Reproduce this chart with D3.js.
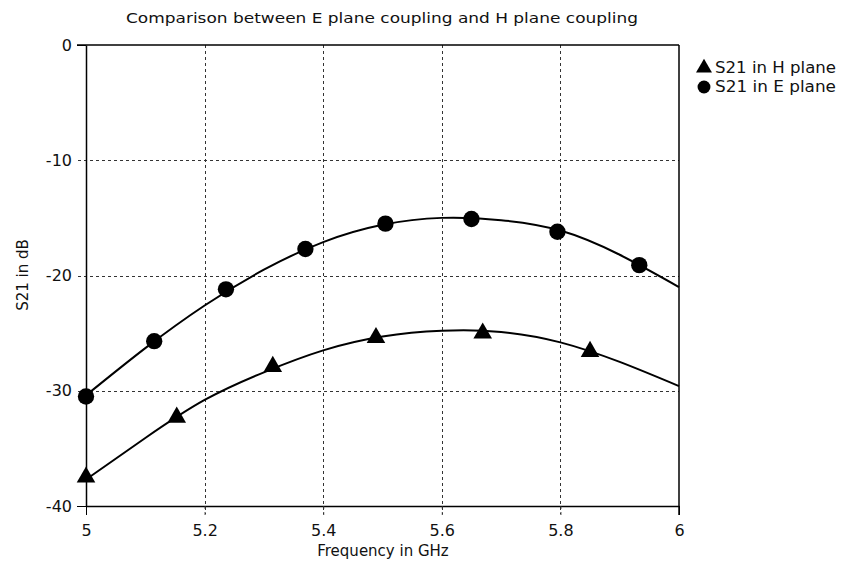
<!DOCTYPE html>
<html lang="en">
<head>
    <meta charset="UTF-8">
    <title>E plane vs H plane coupling</title>
    <script src="https://cdn.jsdelivr.net/npm/d3@7/dist/d3.min.js"></script>
    <style>
        body { margin: 0; background: #fff; }
        text { font-family: "DejaVu Sans", sans-serif; fill: #111; }
    </style>
</head>
<body>
    <script>
        // measured points
        const hFreq = [5.0, 5.153, 5.315, 5.489, 5.669, 5.85];
        const hS21 = [-37.5, -32.3, -27.9, -25.4, -25.0, -26.6];
        const eFreq = [5.0, 5.115, 5.236, 5.37, 5.505, 5.65, 5.795, 5.933];
        const eS21 = [-30.5, -25.7, -21.2, -17.7, -15.5, -15.1, -16.2, -19.1];
        // fitted curves
        const curveFreq = [5.0, 5.1, 5.2, 5.3, 5.4, 5.5, 5.6, 5.7, 5.8, 5.9, 6.0];
        const hCurve = [-37.7, -34.1, -30.8, -28.4, -26.5, -25.3, -24.8, -24.9, -25.8, -27.5, -29.6];
        const eCurve = [-30.4, -26.3, -22.6, -19.5, -17.1, -15.6, -15.0, -15.2, -16.1, -18.2, -21.0];
        const xTicks = [5, 5.2, 5.4, 5.6, 5.8, 6];
        const yTicks = [0, -10, -20, -30, -40];
        const legendLabels = ["S21 in H plane", "S21 in E plane"];

        const width = 843, height = 569;
        const mLeft = 86, mRight = 679, mTop = 45, mBottom = 506;

        const x = d3.scaleLinear().domain([5, 6]).range([mLeft, mRight]);
        const y = d3.scaleLinear().domain([-40, 0]).range([mBottom, mTop]);

        const svg = d3.select("body").append("svg").attr("width", width).attr("height", height);

        svg.append("text").attr("x", 382).attr("y", 23).attr("text-anchor", "middle")
            .style("font-size", "14px").attr("textLength", 512).attr("lengthAdjust", "spacingAndGlyphs")
            .text("Comparison between E plane coupling and H plane  coupling");

        // grid
        const grid = svg.append("g").attr("stroke", "#333").attr("stroke-width", 1).attr("stroke-dasharray", "3,3");
        grid.selectAll(".vg").data(xTicks.slice(1, -1)).enter().append("line")
            .attr("x1", d => Math.round(x(d)) + 0.5).attr("x2", d => Math.round(x(d)) + 0.5)
            .attr("y1", mTop).attr("y2", mBottom + 8);
        grid.selectAll(".hg").data(yTicks.slice(1, -1)).enter().append("line")
            .attr("y1", d => Math.round(y(d)) + 0.5).attr("y2", d => Math.round(y(d)) + 0.5)
            .attr("x1", mLeft - 8).attr("x2", mRight);

        // axes
        const fmt = d => String(d);
        const xAxis = svg.append("g").attr("transform", `translate(0,${mBottom})`)
            .call(d3.axisBottom(x).tickValues(xTicks).tickFormat(fmt).tickSize(9).tickSizeOuter(0));
        const yAxis = svg.append("g").attr("transform", `translate(${mLeft},0)`)
            .call(d3.axisLeft(y).tickValues(yTicks).tickFormat(fmt).tickSize(9).tickSizeOuter(0));
        [xAxis, yAxis].forEach(a => {
            a.select(".domain").attr("stroke", "#000").attr("stroke-width", 1.5);
            a.selectAll(".tick line").attr("stroke", "#000");
            a.selectAll(".tick text").style("font-size", "16px").style("font-family", "DejaVu Sans, sans-serif").attr("fill", "#111");
        });
        xAxis.selectAll(".tick text").attr("dy", "1.15em");
        xAxis.selectAll(".tick").filter(d => d > 5 && d < 6).select("line").attr("stroke-dasharray", "3,3").attr("stroke", "#333");
        yAxis.selectAll(".tick").filter(d => d < 0 && d > -40).select("line").remove();
        yAxis.selectAll(".tick text").attr("x", -14);

        // top and right border
        svg.append("line").attr("x1", mLeft - 9).attr("x2", mRight).attr("y1", mTop).attr("y2", mTop)
            .attr("stroke", "#000").attr("stroke-width", 1.5);
        svg.append("line").attr("x1", mRight).attr("x2", mRight).attr("y1", mTop).attr("y2", mBottom + 9)
            .attr("stroke", "#000").attr("stroke-width", 1.5);

        svg.append("text").attr("transform", `translate(28,275) rotate(-90)`).attr("text-anchor", "middle")
            .style("font-size", "15px").text("S21 in dB");
        svg.append("text").attr("x", 383).attr("y", 556).attr("text-anchor", "middle")
            .style("font-size", "15px").text("Frequency in GHz");

        // curves
        const line = d3.line().x(d => x(d[0])).y(d => y(d[1])).curve(d3.curveNatural);
        [hCurve, eCurve].forEach(c => {
            svg.append("path").datum(curveFreq.map((f, i) => [f, c[i]])).attr("d", line)
                .attr("fill", "none").attr("stroke", "#000").attr("stroke-width", 2);
        });

        const tri = d3.symbol().type(d3.symbolTriangle).size(150);
        const dot = d3.symbol().type(d3.symbolCircle).size(210);
        svg.append("g").selectAll("path").data(hFreq.map((f, i) => [f, hS21[i]])).enter().append("path")
            .attr("d", tri).attr("transform", d => `translate(${x(d[0])},${y(d[1])})`).attr("fill", "#000");
        svg.append("g").selectAll("path").data(eFreq.map((f, i) => [f, eS21[i]])).enter().append("path")
            .attr("d", dot).attr("transform", d => `translate(${x(d[0])},${y(d[1])})`).attr("fill", "#000");

        // legend
        const legend = svg.append("g").attr("transform", "translate(704,0)");
        legend.append("path").attr("d", d3.symbol().type(d3.symbolTriangle).size(110)).attr("transform", "translate(0,68)");
        legend.append("path").attr("d", d3.symbol().type(d3.symbolCircle).size(130)).attr("transform", "translate(0,87)");
        legend.selectAll("text").data(legendLabels).enter().append("text")
            .attr("x", 11).attr("y", (d, i) => 73 + i * 19).style("font-size", "15px")
            .attr("textLength", 121).attr("lengthAdjust", "spacingAndGlyphs").text(d => d);
    </script>
</body>
</html>
